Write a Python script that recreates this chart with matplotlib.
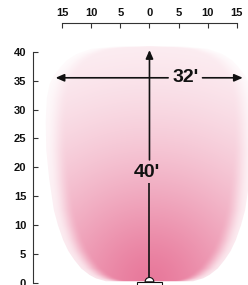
import numpy as np
import matplotlib
matplotlib.use("Agg")
import matplotlib.pyplot as plt
from matplotlib.patches import Polygon, FancyArrowPatch, Rectangle, Wedge

# ---- data (feet) ----
x_ticks = [-15, -10, -5, 0, 5, 10, 15]
y_ticks = [0, 5, 10, 15, 20, 25, 30, 35, 40]
beam_width = 32     # horizontal spread label
beam_height = 40    # throw distance label
width_level = 35.5  # height where width is measured
# outline of the light pattern: height (ft) and half-width (ft)
outline_y = [0.3, 0.8, 1.4, 2.5, 4.0, 5.5, 7.4, 10.0, 12.6, 18.0, 23.0, 28.0,
             32.0, 34.5, 36.0, 37.4, 38.5, 39.6, 40.5, 40.9, 41.0]
outline_hw = [7.5, 9.2, 10.3, 11.7, 12.9, 13.9, 14.8, 15.7, 16.4, 17.2, 17.7, 17.8,
              17.6, 17.1, 16.3, 15.2, 14.2, 12.5, 10.0, 6.0, 0.0]

FONT = "Liberation Sans"
INK = "#111111"

fig = plt.figure(figsize=(2.48, 2.85), dpi=100)
ax = fig.add_axes([0, 0, 1, 1])
ax.set_xlim(-25.64, 16.9)
ax.set_ylim(-0.35, 48.96)
ax.patch.set_alpha(0)

# ---- light pattern polygon ----
oy = np.array(outline_y)
ohw = np.array(outline_hw)
verts = ([(0.0, oy[0])] + [(h, y) for y, h in zip(oy, ohw)] +
         [(-h, y) for y, h in zip(oy[::-1], ohw[::-1])] + [(0.0, oy[0])])
poly = Polygon(verts, closed=True, facecolor="none", edgecolor="none")
ax.add_patch(poly)

# gradient image
xs = np.linspace(-19, 19, 400)
ys = np.linspace(0, 42, 440)
X, Y = np.meshgrid(xs, ys)
R = np.hypot(X, Y)
t = 0.88 * np.exp(-(R / 26.0) ** 1.5)
hw_at = np.interp(Y, oy, ohw)
edge = np.clip((hw_at - np.abs(X)) / 3.5, 0, 1)
edge = edge * edge * (3 - 2 * edge)
t = t * (0.25 + 0.75 * edge)
base = np.array([229, 102, 141]) / 255.0
img = np.ones(X.shape + (3,)) * (1 - t[..., None]) + base * t[..., None]
im = ax.imshow(img, extent=(-19, 19, 0, 42), origin="lower",
               interpolation="bilinear", aspect="auto", zorder=1)
im.set_clip_path(poly)

# ---- axes spines ----
for s in ["right", "bottom"]:
    ax.spines[s].set_visible(False)
ax.spines["top"].set_position(("data", 45))
ax.spines["top"].set_bounds(x_ticks[0], x_ticks[-1])
ax.spines["left"].set_position(("data", -20))
ax.spines["left"].set_bounds(y_ticks[0], y_ticks[-1])
for s in ["top", "left"]:
    ax.spines[s].set_linewidth(0.8)
    ax.spines[s].set_color("#333333")
ax.xaxis.tick_top()
ax.set_xticks(x_ticks)
ax.set_xticklabels([str(abs(v)) for v in x_ticks])
ax.set_yticks(y_ticks)
ax.set_yticklabels([str(v) for v in y_ticks])
ax.tick_params(axis="x", direction="in", length=3.6, width=0.8, color="#333333",
               pad=3.2, labelsize=8, labelcolor=INK)
ax.tick_params(axis="y", direction="in", length=3.3, width=0.8, color="#333333",
               pad=4.8, labelsize=8, labelcolor=INK)
for lab in ax.get_xticklabels() + ax.get_yticklabels():
    lab.set_fontfamily(FONT)
    lab.set_fontweight("bold")

# ---- lamp fixture ----
ax.add_patch(Rectangle((-2.1, -1.0), 4.2, 1.2, facecolor="white",
                       edgecolor=INK, linewidth=0.8, zorder=4))
ax.add_patch(Wedge((0, 0.2), 0.75, 0, 180, facecolor="white",
                   edgecolor=INK, linewidth=0.8, zorder=5))

# ---- dimension arrows ----
astyle = "-|>,head_length=0.5,head_width=0.22"
lw = 1.2
# vertical (height)
h_lab_y = beam_height * 0.48
ax.plot([0, 0], [0.95, h_lab_y - 1.9], color=INK, lw=lw, zorder=3,
        solid_capstyle="butt")
ax.add_patch(FancyArrowPatch((0, h_lab_y + 2.1), (0, beam_height + 0.3),
                             arrowstyle=astyle, mutation_scale=10, color=INK,
                             lw=lw, shrinkA=0, shrinkB=0, zorder=3))
ax.text(-0.45, h_lab_y, f"{beam_height}'", ha="center", va="center",
        fontsize=14, fontweight="bold", family=FONT, color=INK, zorder=6)
# horizontal (width)
half = beam_width / 2
w_lab_x = 6.2
ax.add_patch(FancyArrowPatch((w_lab_x - 3.0, width_level), (-half - 0.1, width_level),
                             arrowstyle=astyle, mutation_scale=10, color=INK,
                             lw=lw, shrinkA=0, shrinkB=0, zorder=3))
ax.add_patch(FancyArrowPatch((w_lab_x + 2.9, width_level), (half, width_level),
                             arrowstyle=astyle, mutation_scale=10, color=INK,
                             lw=lw, shrinkA=0, shrinkB=0, zorder=3))
ax.text(w_lab_x, width_level, f"{beam_width}'", ha="center", va="center",
        fontsize=14, fontweight="bold", family=FONT, color=INK, zorder=6)

fig.savefig("out.png", dpi=100, facecolor="white")
